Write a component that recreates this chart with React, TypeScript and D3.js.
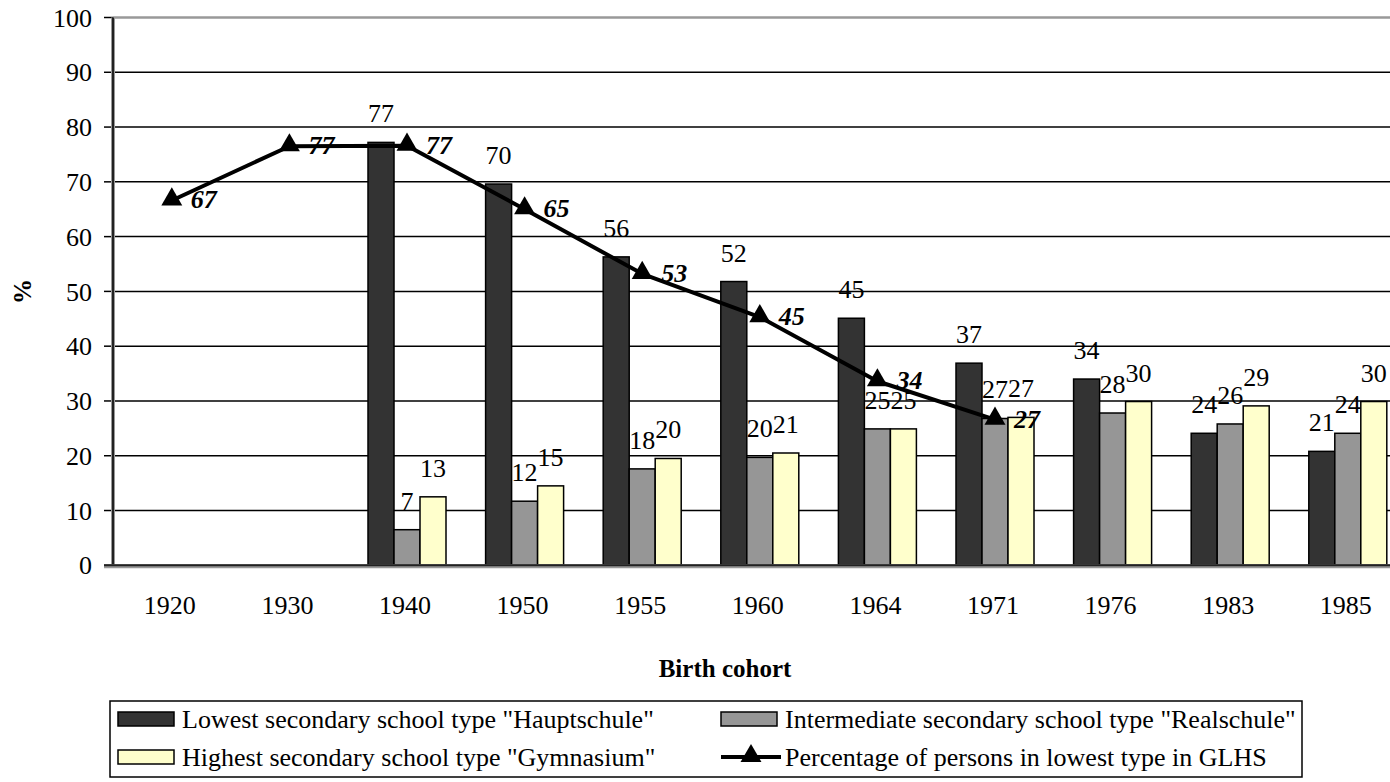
import React, { useEffect, useRef } from 'react';
import * as d3 from 'd3';

// chart data
const cohorts = ["1920", "1930", "1940", "1950", "1955", "1960", "1964", "1971", "1976", "1983", "1985"];
const hauptschule = [null, null, 77.2, 69.6, 56.3, 51.8, 45.1, 36.9, 34.0, 24.1, 20.8];
const realschule = [null, null, 6.5, 11.7, 17.6, 19.7, 24.9, 26.8, 27.8, 25.8, 24.1];
const gymnasium = [null, null, 12.5, 14.5, 19.5, 20.5, 24.9, 27.0, 29.9, 29.1, 29.9];
const glhsLowest = [66.6, 76.5, 76.6, 65.0, 53.2, 45.3, 33.6, 26.6, null, null, null];
const yTicks = [0, 10, 20, 30, 40, 50, 60, 70, 80, 90, 100];

const seriesNames = [
  'Lowest secondary school type "Hauptschule"',
  'Intermediate secondary school type "Realschule"',
  'Highest secondary school type "Gymnasium"',
  "Percentage of persons in lowest type in GLHS",
];
const barColors = ["#333333", "#969696", "#FFFFCC"];

const FONT = "'Liberation Serif', 'Times New Roman', serif";

export default function App() {
  const ref = useRef<SVGSVGElement>(null);

  useEffect(() => {
    if (!ref.current) return;
    const svg = d3.select(ref.current);
    svg.selectAll("*").remove();

    const left = 113;
    const top = 17.5;
    const bottom = 565.3;
    const right = 113 + 117.6 * cohorts.length;

    const x = d3.scaleBand().domain(cohorts).range([left, right]).padding(0);
    const y = d3.scaleLinear().domain([0, 100]).range([bottom, top]);
    const groupW = 78;
    const inner = d3.scaleBand().domain(["0", "1", "2"]).range([0, groupW]).padding(0);
    const groupX = (c: string) => (x(c) as number) + (x.bandwidth() - groupW) / 2;

    svg.append("rect").attr("width", 1390).attr("height", 782).attr("fill", "#fff");

    // grid lines
    svg.selectAll(".grid")
      .data(yTicks.filter(t => t > 0 && t < 100))
      .enter()
      .append("line")
      .attr("x1", left).attr("x2", right)
      .attr("y1", d => y(d)).attr("y2", d => y(d))
      .attr("stroke", "#000").attr("stroke-width", 1.5);
    // top border
    svg.append("line")
      .attr("x1", left).attr("x2", right)
      .attr("y1", y(100)).attr("y2", y(100))
      .attr("stroke", "#999").attr("stroke-width", 2.5);

    // y ticks + labels
    svg.selectAll(".ytick")
      .data(yTicks)
      .enter()
      .append("line")
      .attr("x1", left - 9).attr("x2", left)
      .attr("y1", d => y(d)).attr("y2", d => y(d))
      .attr("stroke", "#000").attr("stroke-width", 1.5);
    svg.selectAll(".ylab")
      .data(yTicks)
      .enter()
      .append("text")
      .attr("x", 92).attr("y", d => y(d)).attr("dy", "0.35em")
      .attr("text-anchor", "end")
      .style("font-family", FONT).style("font-size", "26px")
      .text(d => d);

    // bars
    const bars = [hauptschule, realschule, gymnasium];
    bars.forEach((vals, si) => {
      const pts = cohorts.map((c, i) => ({ c, v: vals[i] })).filter(d => d.v != null) as { c: string; v: number }[];
      svg.selectAll(`.bar-${si}`)
        .data(pts)
        .enter()
        .append("rect")
        .attr("x", d => groupX(d.c) + (inner(String(si)) as number))
        .attr("y", d => y(d.v))
        .attr("width", inner.bandwidth())
        .attr("height", d => y(0) - y(d.v))
        .attr("fill", barColors[si])
        .attr("stroke", "#000")
        .attr("stroke-width", 1.5);
    });

    // axes lines
    svg.append("line")
      .attr("x1", left).attr("x2", left)
      .attr("y1", y(100)).attr("y2", y(0))
      .attr("stroke", "#999").attr("stroke-width", 4);
    svg.append("line")
      .attr("x1", left).attr("x2", left)
      .attr("y1", y(100)).attr("y2", y(0))
      .attr("stroke", "#222").attr("stroke-width", 2);
    svg.append("line")
      .attr("x1", left - 9).attr("x2", right)
      .attr("y1", y(0) + 1).attr("y2", y(0) + 1)
      .attr("stroke", "#999").attr("stroke-width", 4);
    svg.append("line")
      .attr("x1", left - 9).attr("x2", right)
      .attr("y1", y(0)).attr("y2", y(0))
      .attr("stroke", "#222").attr("stroke-width", 2);

    // category labels
    svg.selectAll(".xlab")
      .data(cohorts)
      .enter()
      .append("text")
      .attr("x", d => (x(d) as number) + x.bandwidth() / 2 - 2)
      .attr("y", 614)
      .attr("text-anchor", "middle")
      .style("font-family", FONT).style("font-size", "26px")
      .text(d => d);

    // line series
    const linePts = cohorts.map((c, i) => ({ c, v: glhsLowest[i] })).filter(d => d.v != null) as { c: string; v: number }[];
    const cx = (c: string) => (x(c) as number) + x.bandwidth() / 2;
    const line = d3.line<{ c: string; v: number }>().x(d => cx(d.c)).y(d => y(d.v));
    svg.append("path")
      .datum(linePts)
      .attr("d", line)
      .attr("fill", "none")
      .attr("stroke", "#000")
      .attr("stroke-width", 4)
      .attr("stroke-linejoin", "round");
    const tri = d3.symbol().type(d3.symbolTriangle).size(190);
    svg.selectAll(".marker")
      .data(linePts)
      .enter()
      .append("path")
      .attr("d", tri)
      .attr("transform", d => `translate(${cx(d.c)},${y(d.v) - 1})`)
      .attr("fill", "#000");

    // bar value labels
    bars.forEach((vals, si) => {
      const pts = cohorts.map((c, i) => ({ c, v: vals[i] })).filter(d => d.v != null) as { c: string; v: number }[];
      svg.selectAll(`.blab-${si}`)
        .data(pts)
        .enter()
        .append("text")
        .attr("x", d => groupX(d.c) + (inner(String(si)) as number) + inner.bandwidth() / 2)
        .attr("y", d => y(d.v) - 20)
        .attr("text-anchor", "middle")
        .style("font-family", FONT).style("font-size", "26px")
        .text(d => Math.round(d.v));
    });
    // line value labels
    svg.selectAll(".llab")
      .data(linePts)
      .enter()
      .append("text")
      .attr("x", d => cx(d.c) + 19)
      .attr("y", d => y(d.v) + 8)
      .style("font-family", FONT).style("font-size", "26px")
      .style("font-weight", "bold").style("font-style", "italic")
      .text(d => Math.round(d.v));

    // axis titles
    svg.append("text")
      .attr("transform", `translate(31, ${(top + bottom) / 2}) rotate(-90)`)
      .attr("text-anchor", "middle")
      .style("font-family", FONT).style("font-size", "25px").style("font-weight", "bold")
      .text("%");
    svg.append("text")
      .attr("x", 725).attr("y", 677)
      .attr("text-anchor", "middle")
      .style("font-family", FONT).style("font-size", "25px").style("font-weight", "bold")
      .text("Birth cohort");

    // legend
    const lg = svg.append("g");
    lg.append("rect")
      .attr("x", 110).attr("y", 701).attr("width", 1192).attr("height", 76)
      .attr("fill", "#fff").attr("stroke", "#000").attr("stroke-width", 1.5);
    const entries = [
      { name: seriesNames[0], col: 0, row: 0, kind: 0 },
      { name: seriesNames[1], col: 1, row: 0, kind: 1 },
      { name: seriesNames[2], col: 0, row: 1, kind: 2 },
      { name: seriesNames[3], col: 1, row: 1, kind: 3 },
    ];
    const colX = [118, 721];
    const rowY = [719, 757];
    entries.forEach(e => {
      const gx = colX[e.col];
      const gy = rowY[e.row];
      if (e.kind < 3) {
        lg.append("rect")
          .attr("x", gx).attr("y", gy - 7).attr("width", 56).attr("height", 14)
          .attr("fill", barColors[e.kind]).attr("stroke", "#000").attr("stroke-width", 1.5);
      } else {
        lg.append("line")
          .attr("x1", gx).attr("x2", gx + 60).attr("y1", gy).attr("y2", gy)
          .attr("stroke", "#000").attr("stroke-width", 4);
        lg.append("path")
          .attr("d", tri)
          .attr("transform", `translate(${gx + 30},${gy - 1})`)
          .attr("fill", "#000");
      }
      lg.append("text")
        .attr("x", gx + 64).attr("y", gy).attr("dy", "0.35em")
        .style("font-family", FONT).style("font-size", "26px")
        .text(e.name);
    });
  }, []);

  return (
    <svg
      ref={ref}
      width={1390}
      height={782}
      style={{ position: "absolute", left: 0, top: 0, display: "block" }}
    />
  );
}
